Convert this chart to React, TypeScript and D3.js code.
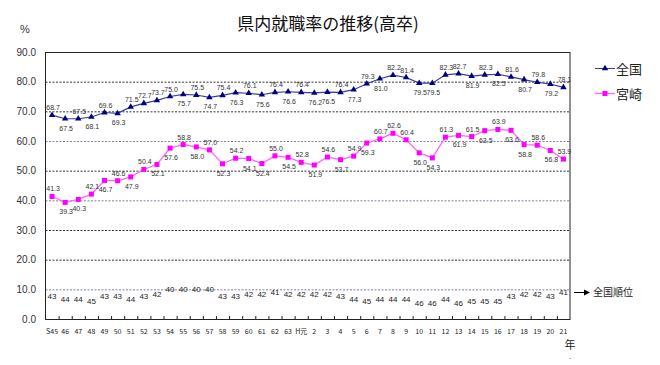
import * as React from 'react';
import * as d3 from 'd3';

const years = [
    'S45', '46', '47', '48', '49', '50', '51', '52', '53', '54', '55', '56', '57',
    '58', '59', '60', '61', '62', '63', 'H元', '2', '3', '4', '5', '6', '7', '8',
    '9', '10', '11', '12', '13', '14', '15', '16', '17', '18', '19', '20', '21',
];

// 全国
const national = [
    68.7, 67.5, 67.5, 68.1, 69.6, 69.3, 71.5, 72.7, 73.7, 75.0, 75.7, 75.5, 74.7,
    75.4, 76.3, 76.1, 75.6, 76.4, 76.6, 76.4, 76.2, 76.5, 76.4, 77.3, 79.3, 81.0,
    82.2, 81.4, 79.5, 79.5, 82.3, 82.7, 81.9, 82.3, 82.5, 81.6, 80.7, 79.8, 79.2, 78.1,
];

// 宮崎
const miyazaki = [
    41.3, 39.3, 40.3, 42.1, 46.7, 46.6, 47.9, 50.4, 52.1, 57.6, 58.8, 58.0, 57.0,
    52.3, 54.2, 54.1, 52.4, 55.0, 54.5, 52.8, 51.9, 54.6, 53.7, 54.9, 59.3, 60.7,
    62.6, 60.4, 56.0, 54.3, 61.3, 61.9, 61.5, 63.5, 63.9, 63.6, 58.8, 58.6, 56.8, 53.9,
];

// 全国順位
const ranks = [
    43, 44, 44, 45, 43, 43, 44, 43, 42, 40, 40, 40, 40, 43, 43, 42, 42, 41, 42, 42,
    42, 42, 43, 44, 45, 44, 44, 44, 46, 46, 44, 46, 45, 45, 45, 43, 42, 42, 43, 41,
];

const yTicks = [0, 10, 20, 30, 40, 50, 60, 70, 80, 90];

// which data labels sit under their point
const nationalBelow = new Set([1, 3, 5, 10, 12, 14, 16, 18, 20, 21, 23, 25, 28, 29, 32, 34, 36, 38]);
const miyazakiBelow = new Set([1, 2, 4, 6, 8, 9, 11, 13, 15, 16, 18, 20, 22, 24, 28, 29, 31, 33, 35, 36, 38]);

const jp = '"Noto Sans CJK JP", sans-serif';
const num = '"Liberation Sans", Arial, sans-serif';

export default function App() {
    const ref = React.useRef<SVGSVGElement>(null);

    React.useEffect(() => {
        const w = 660;
        const h = 365;
        const left = 45.5;
        const right = 570;
        const top = 52;
        const bottom = 319;

        const svg = d3.select(ref.current);
        svg.selectAll('*').remove();

        const x = d3.scaleBand<string>()
            .domain(years)
            .range([left, right])
            .padding(0);
        const cx = (i: number) => x(years[i])! + x.bandwidth()/2;
        const y = d3.scaleLinear()
            .domain([0, 90])
            .range([bottom, top]);
        const rankY = d3.scaleLinear()
            .domain([40, 46])
            .range([y(10) + 3, y(10) + 17]);

        svg.attr('width', w).attr('height', h);

        svg.append('text')
            .attr('x', 328)
            .attr('y', 30)
            .attr('text-anchor', 'middle')
            .style('font-family', jp)
            .style('font-size', '17px')
            .attr('fill', '#111')
            .text('県内就職率の推移(高卒)');

        // grid
        svg.append('g')
            .selectAll('line')
            .data(yTicks.filter(t => t > 0 && t < 90))
            .join('line')
                .attr('x1', left)
                .attr('x2', right)
                .attr('y1', d => y(d) + 0.5)
                .attr('y2', d => y(d) + 0.5)
                .attr('stroke', d => d === 10 || d === 40 || d === 60 ? '#8080a0' : '#333')
                .attr('stroke-dasharray', '2,1.5');

        svg.append('rect')
            .attr('x', left)
            .attr('y', top + 0.5)
            .attr('width', right - left)
            .attr('height', bottom - top)
            .attr('fill', 'none')
            .attr('stroke', '#222');

        svg.append('g')
            .selectAll('text')
            .data(yTicks)
            .join('text')
                .attr('x', 36)
                .attr('y', d => y(d) + 3.5)
                .attr('text-anchor', 'end')
                .style('font-family', num)
                .style('font-size', '10px')
                .attr('fill', '#333')
                .text(d => d.toFixed(1));

        svg.append('text')
            .attr('x', 25)
            .attr('y', 33)
            .attr('text-anchor', 'middle')
            .style('font-family', num)
            .style('font-size', '11px')
            .attr('fill', '#333')
            .text('%');

        // x ticks at band edges
        svg.append('g')
            .selectAll('line')
            .data(years.slice(1))
            .join('line')
                .attr('x1', d => x(d)! + 0.5)
                .attr('x2', d => x(d)! + 0.5)
                .attr('y1', bottom)
                .attr('y2', bottom - 3)
                .attr('stroke', '#222');

        svg.append('g')
            .selectAll('text')
            .data(years)
            .join('text')
                .attr('x', (d, i) => cx(i))
                .attr('y', 334)
                .attr('text-anchor', 'middle')
                .style('font-family', jp)
                .style('font-size', '7px')
                .attr('fill', '#222')
                .text(d => d);

        svg.append('text')
            .attr('x', 570)
            .attr('y', 349)
            .attr('text-anchor', 'middle')
            .style('font-family', jp)
            .style('font-size', '11px')
            .attr('fill', '#222')
            .text('年');
        svg.append('text')
            .attr('x', 570)
            .attr('y', 359)
            .attr('text-anchor', 'middle')
            .style('font-family', num)
            .style('font-size', '8px')
            .attr('fill', '#222')
            .text('.');

        const line = d3.line<number>()
            .x((d, i) => cx(i))
            .y(d => y(d));

        // 宮崎
        svg.append('path')
            .attr('d', line(miyazaki))
            .attr('fill', 'none')
            .attr('stroke', '#ff66ff')
            .attr('stroke-width', 1.3);
        svg.append('g')
            .selectAll('rect')
            .data(miyazaki)
            .join('rect')
                .attr('x', (d, i) => cx(i) - 2.5)
                .attr('y', d => y(d) - 2.5)
                .attr('width', 5)
                .attr('height', 5)
                .attr('fill', '#ff00ff');

        // 全国
        svg.append('path')
            .attr('d', line(national))
            .attr('fill', 'none')
            .attr('stroke', '#3c3ca0')
            .attr('stroke-width', 1.2);
        const tri = d3.symbol().type(d3.symbolTriangle).size(18);
        svg.append('g')
            .selectAll('path')
            .data(national)
            .join('path')
                .attr('transform', (d, i) => `translate(${cx(i)}, ${y(d)})`)
                .attr('d', tri())
                .attr('fill', '#000080');

        const labels = (data: number[], below: Set<number>) => svg.append('g')
            .selectAll('text')
            .data(data)
            .join('text')
                .attr('x', (d, i) => cx(i) + 1)
                .attr('y', (d, i) => below.has(i) ? y(d) + 12 : y(d) - 5)
                .attr('text-anchor', 'middle')
                .style('font-family', num)
                .style('font-size', '7px')
                .attr('fill', '#333')
                .text(d => d.toFixed(1));
        labels(national, nationalBelow);
        labels(miyazaki, miyazakiBelow);

        svg.append('g')
            .selectAll('text')
            .data(ranks)
            .join('text')
                .attr('x', (d, i) => cx(i))
                .attr('y', d => rankY(d))
                .attr('text-anchor', 'middle')
                .style('font-family', num)
                .style('font-size', '8px')
                .attr('fill', '#222')
                .text(d => d);

        // 全国順位 arrow
        svg.append('line')
            .attr('x1', 574)
            .attr('x2', 584)
            .attr('y1', 292.5)
            .attr('y2', 292.5)
            .attr('stroke', '#000');
        svg.append('path')
            .attr('d', 'M584,289.5 L590,292.5 L584,295.5 Z')
            .attr('fill', '#000');
        svg.append('text')
            .attr('x', 593)
            .attr('y', 296)
            .style('font-family', jp)
            .style('font-size', '10px')
            .attr('fill', '#222')
            .text('全国順位');

        // legend
        const legend = svg.append('g');
        legend.append('line')
            .attr('x1', 595).attr('x2', 615)
            .attr('y1', 68.5).attr('y2', 68.5)
            .attr('stroke', '#3c3ca0');
        legend.append('path')
            .attr('transform', 'translate(605, 68.5)')
            .attr('d', tri())
            .attr('fill', '#000080');
        legend.append('text')
            .attr('x', 616).attr('y', 73.5)
            .style('font-family', jp)
            .style('font-size', '13px')
            .attr('fill', '#222')
            .text('全国');
        legend.append('line')
            .attr('x1', 595).attr('x2', 615)
            .attr('y1', 93.5).attr('y2', 93.5)
            .attr('stroke', '#ff66ff')
            .attr('stroke-width', 1.3);
        legend.append('rect')
            .attr('x', 602.5).attr('y', 91)
            .attr('width', 5).attr('height', 5)
            .attr('fill', '#ff00ff');
        legend.append('text')
            .attr('x', 616).attr('y', 98.5)
            .style('font-family', jp)
            .style('font-size', '13px')
            .attr('fill', '#222')
            .text('宮崎');
    }, []);

    return (
        <svg ref={ref} style={{ position: 'absolute', left: 0, top: 0, background: '#fff' }} />
    );
}
